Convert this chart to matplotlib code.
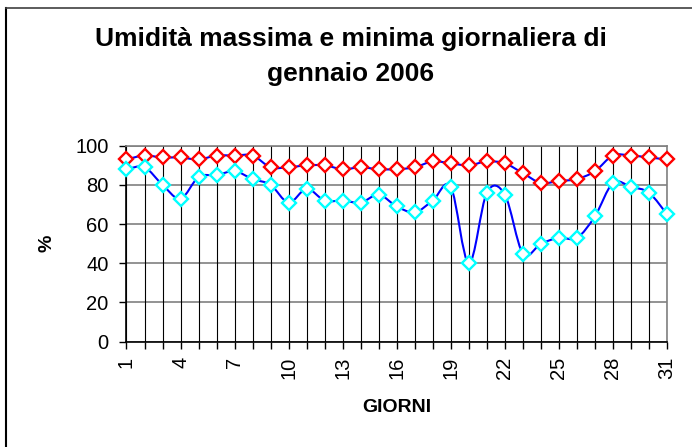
import matplotlib
matplotlib.use("Agg")
import matplotlib.pyplot as plt
import numpy as np
from matplotlib.path import Path
from matplotlib.patches import PathPatch

plt.rcParams["font.family"] = ["Liberation Sans", "DejaVu Sans"]

# data
giorni = list(range(1, 32))
umid_max = [93, 95, 94, 94, 93, 95, 95, 95, 89, 89, 90, 90, 88, 89, 88, 88,
            89, 92, 91, 90, 92, 91, 86, 81, 82, 83, 87, 95, 95, 94, 93]
umid_min = [88, 89, 80, 73, 84, 85, 87, 83, 80, 71, 78, 72, 72, 71, 75, 69,
            66, 72, 79, 40, 76, 75, 45, 50, 53, 53, 64, 81, 79, 76, 65]
y_ticks = [0, 20, 40, 60, 80, 100]
x_labels = [1, 4, 7, 10, 13, 16, 19, 22, 25, 28, 31]

TITLE_1 = "Umidità massima e minima giornaliera di"
TITLE_2 = "gennaio 2006"


def smooth_path(xs, ys):
    # Excel-style smoothed line: cubic bezier through the points
    xs = np.asarray(xs, float)
    ys = np.asarray(ys, float)
    pts = np.column_stack([xs, ys])
    verts = [pts[0]]
    codes = [Path.MOVETO]
    n = len(pts)
    for i in range(n - 1):
        p0 = pts[i - 1] if i > 0 else pts[i]
        p1 = pts[i]
        p2 = pts[i + 1]
        p3 = pts[i + 2] if i + 2 < n else pts[i + 1]
        c1 = p1 + (p2 - p0) / 6
        c2 = p2 - (p3 - p1) / 6
        verts += [c1, c2, p2]
        codes += [Path.CURVE4] * 3
    return Path(verts, codes)


fig = plt.figure(figsize=(6.92, 4.47), dpi=100)
ax = fig.add_axes([0.1828, 0.2356, 0.7811, 0.4384])

for ys, edge in [(umid_max, "#FF0000"), (umid_min, "#00FFFF")]:
    ax.add_patch(PathPatch(smooth_path(giorni, ys), facecolor="none",
                           edgecolor="#0000FF", lw=1.5, zorder=3))
    ax.plot(giorni, ys, ls="none", marker="D", ms=6.8, mfc="white",
            mec=edge, mew=1.7, zorder=4, clip_on=False)

ax.set_xlim(1, 31)
ax.set_ylim(0, 100)
ax.set_yticks(y_ticks)
ax.set_xticks(giorni)
ax.set_xticklabels([str(d) if d in x_labels else "" for d in giorni],
                   rotation=90, fontsize=14.5)
ax.tick_params(axis="y", labelsize=14.5, direction="out", length=5,
               width=1, pad=8)
ax.tick_params(axis="x", direction="out", length=5, width=1, pad=6)

for y in y_ticks:
    ax.axhline(y, color="#808080", lw=1.2, zorder=1)
for d in giorni:
    ax.axvline(d, color="black", lw=0.8, zorder=1)

ax.spines["left"].set_color("black")
ax.spines["bottom"].set_color("black")
ax.spines["top"].set_color("#808080")
ax.spines["right"].set_color("#808080")
for s in ax.spines.values():
    s.set_linewidth(1.2)

ax.set_xlabel("GIORNI", fontsize=14, fontweight="bold", labelpad=14)
ax.set_ylabel("%", fontsize=14, fontweight="bold", labelpad=14)

fig.text(0.507, 1 - 46 / 447, TITLE_1, ha="center", va="baseline",
         fontsize=19, fontweight="bold")
fig.text(0.507, 1 - 81 / 447, TITLE_2, ha="center", va="baseline",
         fontsize=19, fontweight="bold")

# chart frame (left and top edges visible)
fig.add_artist(plt.Line2D([0.009, 0.009], [0, 0.983], color="black", lw=1.5))
fig.add_artist(plt.Line2D([0.009, 1.0], [0.983, 0.983], color="#404040", lw=1.2))

fig.savefig("out.png", dpi=100)
